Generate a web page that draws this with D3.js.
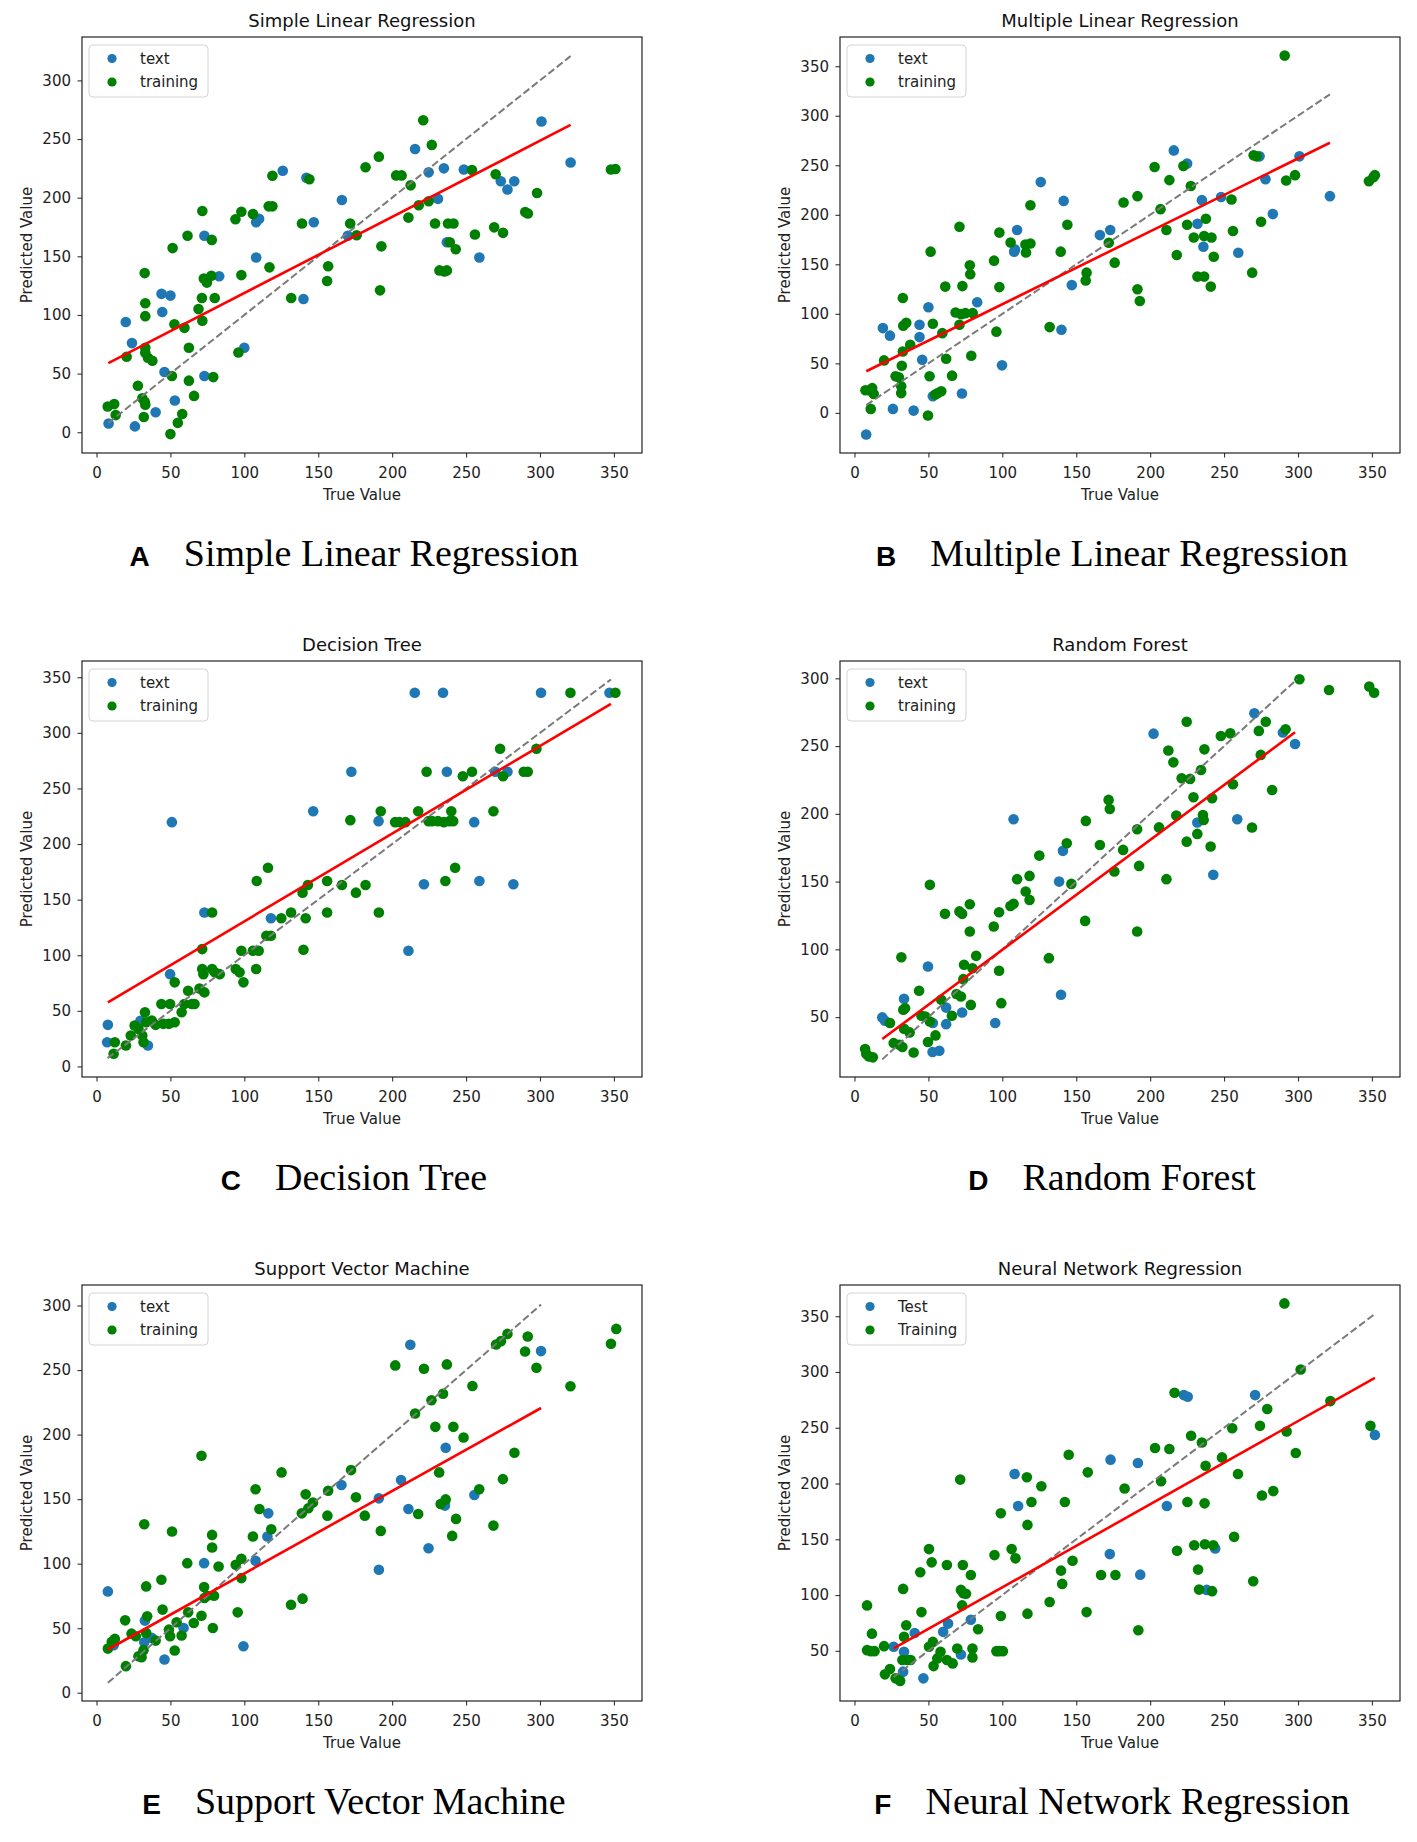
<!DOCTYPE html>
<html>
<head>
<meta charset="utf-8">
<script src="https://cdn.jsdelivr.net/npm/d3@7"></script>
<style>
  body { margin: 0; background: #fff; }
  text { font-family: "DejaVu Sans", sans-serif; }
</style>
</head>
<body>
<svg id="chart" width="1417" height="1842"></svg>
<script>
// panel titles, caption letters and captions
const titles = ["Simple Linear Regression", "Multiple Linear Regression", "Decision Tree",
  "Random Forest", "Support Vector Machine", "Neural Network Regression"];
const letters = ["A", "B", "C", "D", "E", "F"];
const legendLabels = [["text", "training"], ["text", "training"], ["text", "training"],
  ["text", "training"], ["text", "training"], ["Test", "Training"]];

const xTicks = [0, 50, 100, 150, 200, 250, 300, 350];
const xDomain = [-9.8, 369];
const yTickSets = [
  [0, 50, 100, 150, 200, 250, 300],
  [0, 50, 100, 150, 200, 250, 300, 350],
  [0, 50, 100, 150, 200, 250, 300, 350],
  [50, 100, 150, 200, 250, 300],
  [0, 50, 100, 150, 200, 250, 300],
  [50, 100, 150, 200, 250, 300, 350]
];
const yDomains = [[-17.7, 337], [-40.5, 379.5], [-9.5, 364.6], [5.8, 312.8], [-6.4, 315.9], [5, 378]];

// A: simple linear regression  [true, predicted]
const slrTest = [[8.2,7.5],[19.8,94],[24,76],[26,5],[40,17],[44,118],[44.5,102.5],[50,116.5],[46,51.4],[53,27],
  [73,167.6],[73,48],[83,133],[100,72],[108,149],[108,179],[110,182],[126,223],[140,113.6],[142,217],[147,179],
  [166,198],[170,167.6],[215.5,241.5],[224.7,221.6],[235,225],[231,199],[237,162],[248.5,224],[259,149],
  [273.5,214],[278,207],[282.6,214],[301,265],[320.7,230]];
const slrTrain = [[7.6,22],[12,24],[13,14.6],[20.4,64.4],[28,39.7],[31,29],[32.6,26],[33,23.4],[32,13],[32.6,135.7],
  [33,110],[33,99],[33,72],[34.8,63.5],[33,67.7],[37.8,61],[51,48],[51.5,157],[52.7,92],[50,-1.6],[55,8],[58,15.6],
  [59.5,89],[61.6,167.6],[62.5,72],[62.5,44],[66,31],[69,105],[71.3,114.5],[71.6,95],[71.6,188.7],[72.6,131],
  [74.7,127.6],[77.7,133.4],[78,164],[80,114.5],[79,47],[94,181.6],[96,68],[98,134],[98,188],[105.8,186],
  [116.5,192.6],[119,192.6],[119,218.7],[117,140.6],[131.7,114.5],[139,178],[144,215.7],[156.7,141.5],[156,129],
  [171.6,178],[176,168],[182,226],[191,235],[191.8,121],[192.7,158.5],[202.7,219],[206.4,219],[212.5,210.5],
  [211,183],[221,266],[218,193.6],[224.7,197],[226.8,245],[229,178],[232,138],[235.4,137],[237,138],[237.8,178],
  [241.5,178],[239,162],[243,156],[254,223.6],[256,168.6],[269,174.7],[270,220],[275,170],[290,187.8],
  [291.8,186.5],[298,204],[348,224],[351,224.5]];
const slrFit = [[8, 59], [320.7, 262]];
const slrIdent = [8, 320.7];

// B: multiple linear regression
const mlrTest = [[7.9,-21.8],[19.2,85.6],[24,78],[26,4],[40,2.3],[44,89],[44,76.5],[45.8,53.7],[50,106.7],[53,16.8],
  [72.7,19.5],[83,111.7],[99.8,48],[108,162.8],[108.6,165],[110,184.6],[126,233],[140,84],[141.5,214],[147,129],
  [166,179.5],[173,184.6],[216,265],[225,251.7],[232,191],[235,214.8],[236,167.8],[248,218],[259.6,161.7],
  [274,259],[278,236],[283,200.7],[301,259],[321.6,218.8]];
const mlrTrain = [[7.4,22.8],[10,22.8],[12,25],[13,19],[11,4],[20,53],[27.8,37],[30,36],[31.6,27],[32,47.6],
  [31.6,20],[32.7,62],[32.7,116],[33,88],[35,91],[37.7,68.8],[49.7,-2.7],[50.8,37],[51.5,162.8],[53,90],[54.6,18.5],
  [56.4,20],[58.7,21.8],[59.4,80.5],[61.4,127.5],[62,54.7],[66,37.6],[68.4,101.3],[71,188],[71,89],[72.2,99.7],
  [73,128],[75,100.7],[78,149],[78.3,140],[79,57.7],[80,100.7],[94.4,153.7],[96,82],[98,182],[98,127],[105.6,172],
  [115.6,170],[116,162],[119,171],[119,209.7],[132,86.6],[139.5,162.8],[144,190],[156.4,133.6],[157,141.6],
  [172,171.8],[176,151.7],[182,212.4],[191.4,218.8],[191.4,124.8],[193,113],[203,248.3],[207,205.7],[211,184.6],
  [213,235],[218,159.4],[222.5,249.3],[225,190],[227.5,229],[229.5,177],[232,137.6],[236.5,137.6],[237.7,196],
  [236.5,178.5],[241.5,177],[241,127.5],[243,157.7],[255,215.4],[256,183.6],[269,141.6],[270,260],[272,259],
  [275,193],[291,360.7],[292,234.6],[298,240],[348,233.8],[351,238],[352,240]];
const mlrFit = [[8, 42], [321.6, 272.7]];
const mlrIdent = [8, 321.6];

// C: decision tree
const dtTest = [[7.7,37.4],[7.2,21.8],[34.8,18.8],[29.7,41],[49.8,83],[51,219.7],[73,138.4],[118,133.3],
  [146.6,229.5],[172.4,265],[190.8,220.6],[211,104],[215.3,336],[234.4,336],[221.5,163.8],[237,265],[255.5,219.7],
  [259,166.8],[269.7,265],[278,265],[282,163.8],[300.7,336],[347,336]];
const dtTrain = [[11.6,11.4],[12.4,21.8],[19.9,18.8],[23.2,27.8],[25.8,36.8],[28.4,33.8],[31,27.8],[31.8,21.8],
  [32.8,48.7],[33.6,39.7],[37.4,41.2],[40,37.4],[43.9,56.2],[45.2,38.3],[49,38.3],[49.8,56.2],[52.9,75.6],
  [52.9,39.7],[57.6,48.7],[59.4,56.2],[62,68],[64.5,56.2],[66.3,56.2],[69.7,70],[71.5,105.5],[71.5,87.6],[72.3,83],
  [73,66.6],[78.2,138.4],[78.2,87.6],[80,84.6],[83.4,83],[94.2,87.6],[96.8,84.6],[99.4,75.6],[98,104],[105.8,104],
  [108,87.6],[108.4,166.8],[109.7,104],[114.9,117.5],[118,117.5],[116,178.7],[125,133.3],[131.6,138.4],
  [139.4,156.3],[140,105],[141.5,133.3],[143,163.2],[156,166.8],[156,138.4],[166,163.2],[171.7,221.5],
  [175.5,156.3],[182,163.2],[191,138.4],[192.3,229.5],[202,219.7],[205,219.7],[209,219.7],[217.6,229.5],
  [223.3,265],[224.6,220.6],[227,220.6],[231,220.6],[235,219.7],[238.8,220.6],[241.3,220.6],[240,229.5],
  [236,166.8],[242.6,178.7],[247.8,261],[254,265],[268.5,229.5],[273,285.7],[275,261],[289,265],[291.7,265],
  [297.6,285.7],[320.6,336],[351,336]];
const dtFit = [[7.7, 57.7], [348, 326]];
const dtIdent = [7.5, 348];

// D: random forest
const rfTest = [[18.8,49.8],[20.6,47.3],[33.5,63.5],[49.7,87.4],[53,45.6],[52.8,24.2],[57.4,25.2],[62,57],[62,44.8],
  [72.8,53.4],[95.2,45.6],[107.6,196],[138.4,150],[141,172.7],[139.7,66.5],[202.3,259.2],[231.9,193.6],[242.7,155],
  [258.9,196],[270.5,274.2],[289.8,260],[298,251.6]];
const rfTrain = [[7.2,26.4],[8,22.7],[9.8,21],[12.4,20.3],[24,45.6],[26.5,30.8],[30.4,29.6],[32.4,27.9],[31.7,94.2],
  [33,55.4],[34.2,56.6],[33.5,41.4],[37.3,38.7],[40,23.9],[43.7,69.4],[45.3,51],[47.9,50.5],[49.7,31.6],[51,46.8],
  [51,147.6],[54.8,36.5],[58.7,62.8],[61.2,126.2],[65.9,51],[69,67],[71,128],[72,65.2],[72.8,126.2],[73.6,78],
  [74.1,88.6],[78,133.3],[78,113.2],[78.7,59],[79.8,86.1],[82.3,95.2],[94.2,116.9],[97.8,127.4],[97.8,84.2],
  [99.3,60.3],[105.5,132],[107.6,133.6],[110,151.8],[115.8,142.7],[118.4,136.5],[118.4,154.2],[125,169.2],
  [131.5,93.5],[143.6,178.3],[146.7,148.3],[156,121],[156.5,194.8],[166,177],[171.9,210.3],[172.7,203.6],
  [175.8,157.4],[181.7,173.4],[191.2,188.6],[191.2,113.2],[192.5,161.6],[206,190],[211,151.8],[212.3,246.7],
  [215.7,238],[217.7,198.7],[221.3,226.3],[224.7,268],[224.7,179.5],[227,225.8],[229.3,212.3],[231.9,185.2],
  [234.4,232.4],[235.7,199.2],[236.2,195.5],[236.7,247.6],[240.9,175.9],[241.9,211.5],[247.8,257.5],[254.2,259.4],
  [256,221.8],[268.9,189.9],[273.5,261.2],[274.8,243.5],[278.2,268],[282.5,217.6],[291.6,262.4],[301,299.3],
  [321,291.4],[348.2,293.9],[351.5,289.4]];
const rfFit = [[18.8, 33.8], [298, 260.2]];
const rfIdent = [18.8, 299.5];

// E: support vector machine
const svmTest = [[7.7,78.5],[11.6,36.8],[32.8,55.9],[32.3,39.1],[37.4,42.5],[46,25.7],[58.9,50.2],[72.8,100.4],
  [99.4,36],[107.6,102.2],[116.2,139],[115.6,121],[165.7,161],[191,150.6],[191,95.3],[206,164.8],[211,142.4],
  [212.3,269.6],[224.6,112],[235.7,145],[236.2,189.8],[255.6,153.2],[300.7,264.7]];
const svmTrain = [[7.7,34.2],[10.3,39.4],[12.4,41.7],[19.9,20.6],[19.4,56.1],[23.7,45.8],[26.6,43.8],[28.4,28.3],
  [30.5,27.5],[31.8,33],[32.3,130.5],[33.6,82.4],[34.3,59.2],[33.6,46.3],[40,40.4],[43.9,87.5],[44.7,64.4],[49,48.9],
  [49.8,43.8],[51.1,124.9],[52.9,32.7],[54.2,54.6],[57.6,44.3],[61.4,100.4],[62,62.3],[65.8,54],[71,183.6],[71,59.7],
  [72.8,81.9],[73,73.4],[74.9,75.2],[78.2,122.3],[78.2,112.5],[79.5,75.2],[78.7,50.2],[82.6,97.8],[94.2,99.1],
  [95.5,62.3],[98,103.8],[98,88.8],[105.8,121],[107.6,157.6],[110.2,142.4],[118.2,126.7],[125.2,170.7],[131.6,68.2],
  [139.4,72.9],[138.9,139],[141.5,153.7],[143.3,142.9],[146.4,147.3],[156.2,137.2],[156.7,156.5],[172.2,172.5],
  [175.5,151.4],[181.5,137.2],[192.3,125.4],[202.1,253.6],[217.6,138.5],[215.5,216.3],[221.5,251],[226.6,226.6],
  [229.2,206],[231.8,170.7],[232.8,146.2],[234.4,231.7],[236.2,149.8],[237,254.4],[241.4,206],[240.6,121.5],
  [243.2,134.7],[248.3,197.7],[254.3,237.6],[258.9,157.6],[268.5,129.5],[270.3,269.8],[273.6,272.4],[274.9,165.5],
  [278,278],[282.7,185.9],[289.9,264.4],[291.7,276],[297.6,251.8],[320.6,237.4],[348,270.3],[351.6,281.9]];
const svmFit = [[7.7, 33.5], [300.7, 220.6]];
const svmIdent = [7.7, 300.7];

// F: neural network regression
const nnTest = [[26.5,53.6],[33.5,49.1],[32.9,31.3],[40.7,66],[46.6,25.3],[60,67],[63.3,74.4],[72,46.7],[78.7,77.9],
  [108.3,208.6],[110.7,179.8],[173.2,221.4],[172.7,136.7],[191.7,218.4],[193.3,118.3],[211.3,179.8],[222.8,279.3],
  [225.4,277.8],[244,141.8],[238.3,104.6],[271,279.3],[352,243.6]];
const nnTrain = [[8.5,90.7],[8.5,50.6],[11,49.7],[11.8,65.4],[13.6,49.7],[20,54.2],[20.6,28.9],[24,33.7],[27.8,25.3],
  [30.9,23],[32.4,41.7],[32.9,105.5],[33.5,62.5],[35,72.9],[36,41.7],[38,41.7],[44.5,120.4],[45.3,84.7],[50.4,141.2],
  [50.4,53.6],[52.2,129.3],[53,58],[53.5,36.3],[56,43.2],[58.2,49.1],[62.5,126.9],[62.5,41.7],[66.4,38.7],
  [69.5,52.1],[71.5,203.5],[72,104.6],[73.6,101.7],[75.4,101.1],[72.8,90.7],[73.3,126.9],[78.7,118],[79.8,52.1],
  [79.8,44.1],[83.6,69.3],[94.7,135.8],[96,49.7],[97.8,49.7],[100.4,49.7],[99,173.3],[99,81.2],[106.3,141.2],
  [108.9,132.9],[116.6,205.6],[117,162.9],[117,83.3],[119.7,183.4],[126.4,197.6],[132,93.7],[139.7,121.9],
  [140.5,110],[142.3,183.4],[144.9,225.8],[147.5,130.8],[157,84.7],[157.8,210],[166.8,118],[176.5,118],
  [182.7,195.5],[192,68.4],[203.3,231.8],[207.4,202.1],[213,230.9],[216.5,281.4],[218.2,139.7],[225.2,183.4],
  [227.7,242.8],[229.8,144.7],[232.4,122.8],[233.1,104.9],[235,236.8],[236.8,182.2],[237.5,216],[237,145.6],
  [241.9,103.5],[242.7,144.7],[248.6,223.4],[255.5,249.6],[256.8,152.2],[259.4,208.6],[269.7,112.4],[274.3,251.7],
  [275.6,189.3],[279.2,266.8],[283.3,193.2],[290.8,361.5],[292.3,246.6],[298.5,227.3],[301.8,302.2],[321.9,273.9],
  [349,251.7]];
const nnFit = [[26.5, 52.1], [352, 294.7]];
const nnIdent = [26.5, 352];

const testSets = [slrTest, mlrTest, dtTest, rfTest, svmTest, nnTest];
const trainSets = [slrTrain, mlrTrain, dtTrain, rfTrain, svmTrain, nnTrain];
const fits = [slrFit, mlrFit, dtFit, rfFit, svmFit, nnFit];
const idents = [slrIdent, mlrIdent, dtIdent, rfIdent, svmIdent, nnIdent];

// layout
const colLeft = [82, 840];
const rowTop = [37, 661, 1285];
const pw = 560, ph = 416;
const testColor = "#1f77b4", trainColor = "#008000";

const svg = d3.select("#chart");

titles.forEach((title, i) => {
  const col = i % 2, row = Math.floor(i / 2);
  const g = svg.append("g")
    .attr("transform", `translate(${colLeft[col]},${rowTop[row]})`);

  const x = d3.scaleLinear().domain(xDomain).range([0, pw]);
  const y = d3.scaleLinear().domain(yDomains[i]).range([ph, 0]);

  const xAxis = (a) => a
    .call(d3.axisBottom(x).tickValues(xTicks).tickSize(4.5).tickPadding(9.5))
    .call((a) => a.select(".domain").remove())
    .call((a) => a.selectAll(".tick line").attr("stroke", "#333").attr("stroke-width", 1.1))
    .call((a) => a.selectAll("text").attr("fill", "#222")
      .style("font-family", "DejaVu Sans").style("font-size", "15px"));
  const yAxis = (a) => a
    .call(d3.axisLeft(y).tickValues(yTickSets[i]).tickSize(4.5).tickPadding(6.5))
    .call((a) => a.select(".domain").remove())
    .call((a) => a.selectAll(".tick line").attr("stroke", "#333").attr("stroke-width", 1.1))
    .call((a) => a.selectAll("text").attr("fill", "#222")
      .style("font-family", "DejaVu Sans").style("font-size", "15px"));

  g.append("g").attr("transform", `translate(0,${ph})`).call(xAxis);
  g.append("g").call(yAxis);

  // points
  g.append("g").selectAll("circle")
    .data(testSets[i])
    .enter()
    .append("circle")
    .attr("cx", (d) => x(d[0]))
    .attr("cy", (d) => y(d[1]))
    .attr("r", 5.3)
    .attr("fill", testColor);
  g.append("g").selectAll("circle")
    .data(trainSets[i])
    .enter()
    .append("circle")
    .attr("cx", (d) => x(d[0]))
    .attr("cy", (d) => y(d[1]))
    .attr("r", 5.3)
    .attr("fill", trainColor);

  // identity line and fitted line
  const line = d3.line().x((d) => x(d[0])).y((d) => y(d[1]));
  g.append("path")
    .datum(idents[i].map((v) => [v, v]))
    .attr("d", line)
    .attr("fill", "none")
    .attr("stroke", "#7a7a7a")
    .attr("stroke-width", 2)
    .attr("stroke-dasharray", "7.4,3.2");
  g.append("path")
    .datum(fits[i])
    .attr("d", line)
    .attr("fill", "none")
    .attr("stroke", "#ff0000")
    .attr("stroke-width", 2.6);

  // frame
  g.append("rect")
    .attr("width", pw)
    .attr("height", ph)
    .attr("fill", "none")
    .attr("stroke", "#222")
    .attr("stroke-width", 1.2);

  // legend
  const lg = g.append("g").attr("transform", "translate(7,8)");
  lg.append("rect")
    .attr("width", 119)
    .attr("height", 52)
    .attr("rx", 4)
    .attr("fill", "#fff")
    .attr("fill-opacity", 0.8)
    .attr("stroke", "#d4d4d4");
  [testColor, trainColor].forEach((c, k) => {
    lg.append("circle").attr("cx", 23).attr("cy", 13.5 + k * 23.5).attr("r", 4.6).attr("fill", c);
    lg.append("text")
      .attr("x", 51)
      .attr("y", 13.5 + k * 23.5)
      .attr("dy", "0.35em")
      .attr("fill", "#222")
      .style("font-size", "15px")
      .text(legendLabels[i][k]);
  });

  // title and axis labels
  g.append("text")
    .attr("x", pw / 2)
    .attr("y", -10)
    .attr("text-anchor", "middle")
    .attr("fill", "#111")
    .style("font-size", "18px")
    .text(title);
  g.append("text")
    .attr("x", pw / 2)
    .attr("y", ph + 47)
    .attr("text-anchor", "middle")
    .attr("fill", "#222")
    .style("font-size", "15px")
    .text("True Value");
  g.append("text")
    .attr("transform", `translate(-50,${ph / 2}) rotate(-90)`)
    .attr("text-anchor", "middle")
    .attr("fill", "#222")
    .style("font-size", "15px")
    .text("Predicted Value");

  // caption below the panel
  const cap = g.append("g");
  const letter = cap.append("text")
    .attr("y", 529)
    .attr("fill", "#000")
    .style("font-family", "'Liberation Sans', Arial, sans-serif")
    .style("font-weight", "bold")
    .style("font-size", "28px")
    .text(letters[i]);
  const words = cap.append("text")
    .attr("y", 529)
    .attr("fill", "#000")
    .style("font-family", "'Liberation Serif', 'Times New Roman', serif")
    .style("font-size", "38px")
    .text(title);
  const lw = letter.node().getComputedTextLength();
  const ww = words.node().getComputedTextLength();
  const gap = 34;
  const start = pw / 2 - 8 - (lw + gap + ww) / 2;
  letter.attr("x", start);
  words.attr("x", start + lw + gap);
});
</script>
</body>
</html>
